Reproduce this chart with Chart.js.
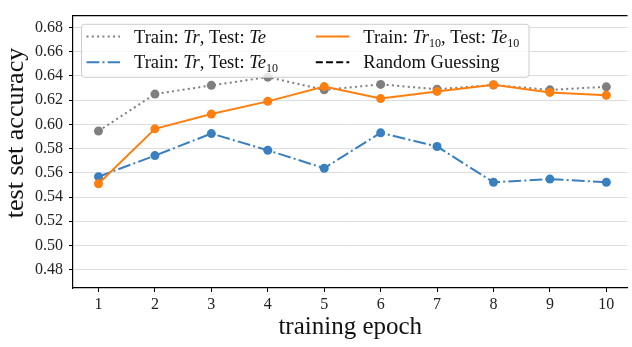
<!DOCTYPE html>
<html>
<head>
<meta charset="utf-8">
<script src="https://cdn.jsdelivr.net/npm/chart.js@4"></script>
<style>
  html, body { margin: 0; padding: 0; background: #fff; }
  #wrap { width: 632px; height: 347px; }
</style>
</head>
<body>
<div id="wrap"><canvas id="accChart" width="632" height="347"></canvas></div>
<script>
  // --- data ---
  const epochs = [1, 2, 3, 4, 5, 6, 7, 8, 9, 10];
  const accTrTe = [0.5945, 0.6250, 0.6322, 0.6390, 0.6285, 0.6330, 0.6290, 0.6325, 0.6285, 0.6310];
  const accTrTe10 = [0.5568, 0.5742, 0.5924, 0.5786, 0.5638, 0.5930, 0.5817, 0.5522, 0.5548, 0.5522];
  const accTr10Te10 = [0.5510, 0.5963, 0.6085, 0.6190, 0.6312, 0.6213, 0.6272, 0.6327, 0.6264, 0.6240];
  const xTicks = [1, 2, 3, 4, 5, 6, 7, 8, 9, 10];
  const yTicks = [0.48, 0.50, 0.52, 0.54, 0.56, 0.58, 0.60, 0.62, 0.64, 0.66, 0.68];

  const SERIF = "'Liberation Serif', 'Times New Roman', serif";
  const GRAY = "#7f7f7f", BLUE = "#3a7fc0", ORANGE = "#ff7f0e";

  const toXY = vals => vals.map((v, i) => ({ x: epochs[i], y: v }));

  // legend entries: text pieces, [text, italic, subscript]
  const legendItems = [
    { col: 0, row: 0, color: GRAY, dash: [2, 3.3], parts: [["Train: "], ["Tr", 1], [", Test: "], ["Te", 1]] },
    { col: 0, row: 1, color: BLUE, dash: [12.8, 3.2, 2, 3.2], parts: [["Train: "], ["Tr", 1], [", Test: "], ["Te", 1], ["10", 0, 1]] },
    { col: 1, row: 0, color: ORANGE, dash: [], parts: [["Train: "], ["Tr", 1], ["10", 0, 1], [", Test: "], ["Te", 1], ["10", 0, 1]] },
    { col: 1, row: 1, color: "#000", dash: [7, 3.2], parts: [["Random Guessing"]] }
  ];

  // --- legend box inside the axes, top spine, y title ---
  const frameLegend = {
    id: "frameLegend",
    afterDatasetsDraw(chart) {
      const { ctx, chartArea: a } = chart;
      ctx.save();
      // top spine
      ctx.strokeStyle = "#000";
      ctx.lineWidth = 1.2;
      ctx.beginPath();
      ctx.moveTo(a.left, a.top);
      ctx.lineTo(a.right, a.top);
      ctx.stroke();

      // y axis title (sits a bit above the axis middle in the original)
      ctx.save();
      ctx.translate(16, 133);
      ctx.rotate(-Math.PI / 2);
      ctx.font = "26px " + SERIF;
      ctx.fillStyle = "#111";
      ctx.textAlign = "center";
      ctx.textBaseline = "middle";
      ctx.fillText("test set accuracy", 0, 0);
      ctx.restore();

      const bx = a.left + 8.5, by = a.top + 8.7, bw = 447.5, bh = 53;
      ctx.beginPath();
      ctx.roundRect(bx, by, bw, bh, 3);
      ctx.fillStyle = "rgba(255,255,255,0.8)";
      ctx.fill();
      ctx.strokeStyle = "#cccccc";
      ctx.lineWidth = 1;
      ctx.stroke();

      legendItems.forEach(item => {
        const lx = bx + 5 + item.col * 229.3;
        const ly = by + 12.3 + item.row * 25.7;
        ctx.strokeStyle = item.color;
        ctx.lineWidth = 2;
        ctx.setLineDash(item.dash);
        ctx.beginPath();
        ctx.moveTo(lx, ly);
        ctx.lineTo(lx + 33.5, ly);
        ctx.stroke();
        ctx.setLineDash([]);

        let tx = lx + 47.5;
        const base = ly + 6;
        ctx.fillStyle = "#111";
        ctx.textBaseline = "alphabetic";
        item.parts.forEach(([t, it, sub]) => {
          ctx.font = (it ? "italic " : "") + (sub ? "12px " : "18.5px ") + SERIF;
          ctx.fillText(t, tx, sub ? base + 4 : base);
          tx += ctx.measureText(t).width;
        });
      });
      ctx.restore();
    }
  };

  function renderChart() {
    const el = document.getElementById("accChart");
    new Chart(el, {
      type: "line",
      data: {
        datasets: [
          {
            label: "Train: Tr, Test: Te10",
            data: toXY(accTrTe10),
            borderColor: BLUE, backgroundColor: BLUE,
            borderWidth: 2, borderDash: [12.8, 3.2, 2, 3.2],
            pointRadius: 4.5, pointBorderWidth: 0, order: 1
          },
          {
            label: "Train: Tr10, Test: Te10",
            data: toXY(accTr10Te10),
            borderColor: ORANGE, backgroundColor: ORANGE,
            borderWidth: 2,
            pointRadius: 4.5, pointBorderWidth: 0, order: 0
          },
          {
            label: "Train: Tr, Test: Te",
            data: toXY(accTrTe),
            borderColor: GRAY, backgroundColor: GRAY,
            borderWidth: 2, borderDash: [2, 3.3],
            pointRadius: 4.5, pointBorderWidth: 0, order: 2
          }
        ]
      },
      options: {
        responsive: false,
        animation: false,
        devicePixelRatio: 1,
        layout: { padding: { top: 4, left: 0, right: 0, bottom: 0 } },
        plugins: {
          legend: { display: false },
          tooltip: { enabled: false }
        },
        scales: {
          x: {
            type: "linear",
            min: 0.548,
            max: 10.375,
            afterBuildTicks: s => { s.ticks = xTicks.map(v => ({ value: v })); },
            afterFit: s => { s.height = 59; },
            ticks: {
              color: "#222", padding: 3, maxRotation: 0,
              font: { family: SERIF, size: 16 },
              callback: v => String(v)
            },
            grid: { drawOnChartArea: false, tickColor: "#000", tickLength: 4, tickWidth: 1 },
            border: { display: true, color: "#000", width: 1.2 },
            title: {
              display: true, text: "training epoch", color: "#111",
              font: { family: SERIF, size: 25 }, padding: { top: 0, bottom: 5 }
            }
          },
          y: {
            min: 0.4649,
            max: 0.6898,
            afterBuildTicks: s => { s.ticks = yTicks.map(v => ({ value: v })); },
            afterFit: s => { s.width = 73; },
            ticks: {
              color: "#222", padding: 6,
              font: { family: SERIF, size: 16 },
              callback: v => v.toFixed(2)
            },
            grid: { color: "#dddddd", lineWidth: 1, tickColor: "#000", tickLength: 4 },
            border: { display: true, color: "#000", width: 1.2 }
          }
        }
      },
      plugins: [frameLegend]
    });
  }

  renderChart();
</script>
</body>
</html>
